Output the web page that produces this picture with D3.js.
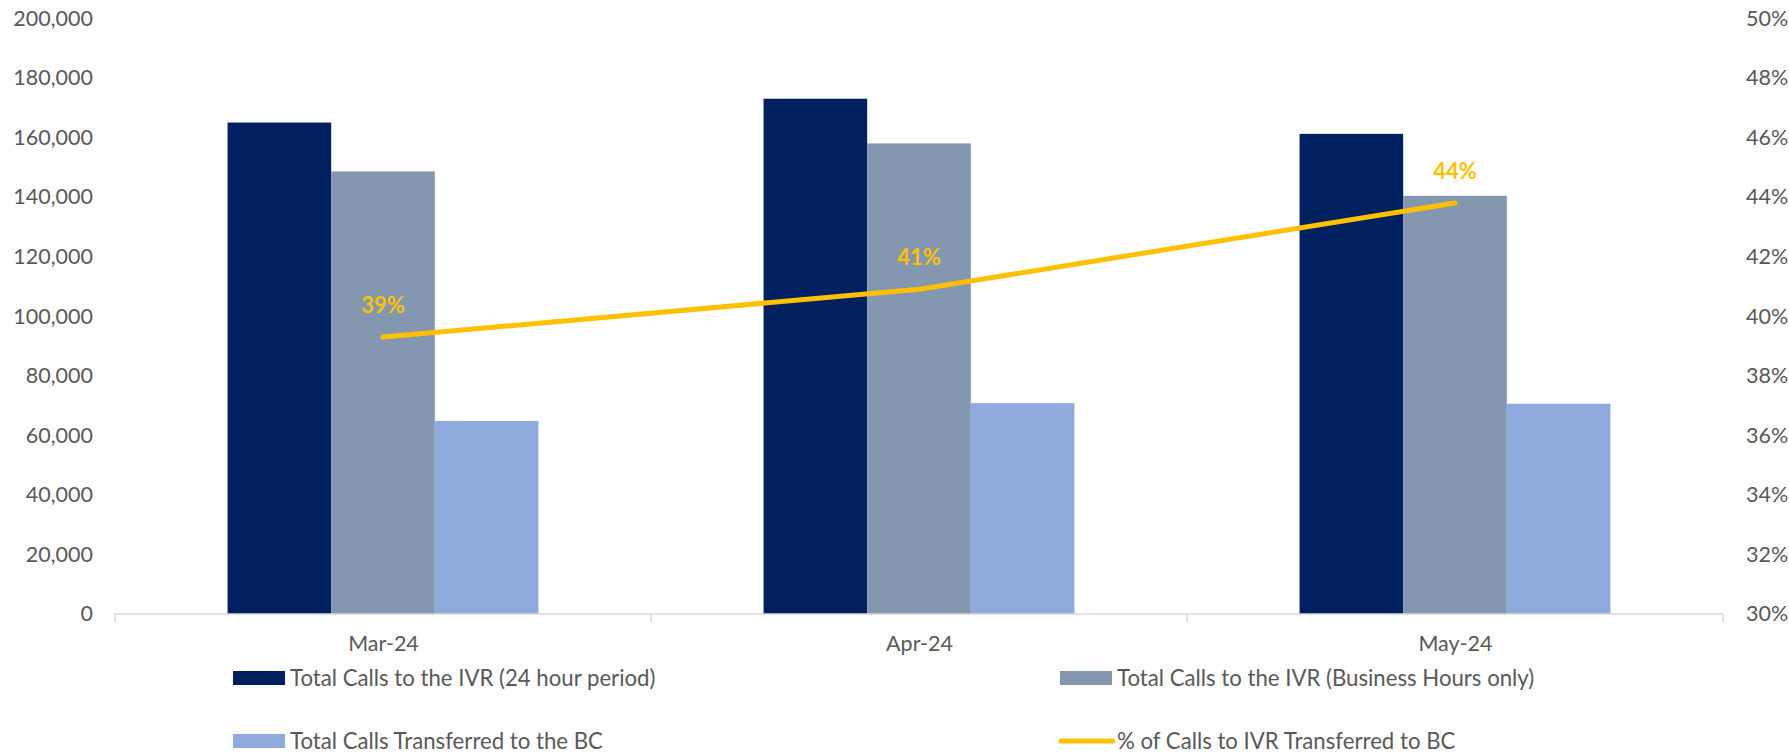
<!DOCTYPE html>
<html>
<head>
<meta charset="utf-8">
<script src="https://cdn.jsdelivr.net/npm/d3@7"></script>
<style>
  html, body { margin: 0; padding: 0; background: #fff; }
  svg { display: block; font-family: Lato, "Open Sans", sans-serif; }
</style>
</head>
<body>
<svg id="chart" width="1789" height="753"></svg>
<script>
// ---- data ----
const categories = ["Mar-24", "Apr-24", "May-24"];
const calls24h = [165000, 173000, 161200];
const callsBusiness = [148600, 158000, 140400];
const callsTransferred = [64800, 70800, 70600];
const pctTransferred = [0.393, 0.409, 0.438];
const leftTicks = [0, 20000, 40000, 60000, 80000, 100000, 120000, 140000, 160000, 180000, 200000];
const rightTicks = [0.30, 0.32, 0.34, 0.36, 0.38, 0.40, 0.42, 0.44, 0.46, 0.48, 0.50];
const seriesNames = [
  "Total Calls to the IVR (24 hour period)",
  "Total Calls to the IVR (Business Hours only)",
  "Total Calls Transferred to the BC"
];
const lineName = "% of Calls to IVR Transferred to BC";

// ---- styles ----
const barColors = ["#002060", "#8497B0", "#8FAADC"];
const lineColor = "#FFC000";
const textColor = "#595959";
const axisColor = "#D9D9D9";
const fontSize = 21.5;
const legendFontSize = 22.2;

const svg = d3.select("#chart");
const plot = { left: 115, right: 1723, top: 18.3, bottom: 614 };

const x0 = d3.scaleBand().domain(categories)
  .range([plot.left, plot.right]).paddingInner(0.42).paddingOuter(0.21);
const x1 = d3.scaleBand().domain(d3.range(3)).range([0, x0.bandwidth()]);
const xEdge = d3.scaleLinear().domain([0, categories.length]).range([plot.left, plot.right]);
const yL = d3.scaleLinear().domain([0, 200000]).range([plot.bottom, plot.top]);
const yR = d3.scaleLinear().domain([0.30, 0.50]).range([plot.bottom, plot.top]);

const series = [calls24h, callsBusiness, callsTransferred];

// bars
const groups = svg.append("g").selectAll("g")
  .data(categories).join("g")
  .attr("transform", d => `translate(${x0(d)},0)`);
groups.selectAll("rect")
  .data((d, i) => series.map((s, k) => ({ k, v: s[i] })))
  .join("rect")
  .attr("x", d => x1(d.k))
  .attr("width", x1.bandwidth())
  .attr("y", d => yL(d.v))
  .attr("height", d => yL(0) - yL(d.v))
  .attr("fill", d => barColors[d.k]);

// x axis line + boundary ticks
const xAxisG = svg.append("g");
xAxisG.append("line")
  .attr("x1", plot.left).attr("x2", plot.right)
  .attr("y1", plot.bottom).attr("y2", plot.bottom)
  .attr("stroke", axisColor).attr("stroke-width", 1.5);
xAxisG.selectAll("line.tick")
  .data(d3.range(categories.length + 1)).join("line")
  .attr("class", "tick")
  .attr("x1", d => xEdge(d)).attr("x2", d => xEdge(d))
  .attr("y1", plot.bottom).attr("y2", plot.bottom + 8)
  .attr("stroke", axisColor).attr("stroke-width", 1.5);

// x labels via axis
const xLab = svg.append("g")
  .attr("transform", `translate(0,${plot.bottom})`)
  .call(d3.axisBottom(d3.scalePoint().domain(categories)
      .range([x0(categories[0]) + x0.bandwidth() / 2, x0(categories[2]) + x0.bandwidth() / 2]))
    .tickSize(0).tickPadding(22));
xLab.select(".domain").remove();
xLab.selectAll("text").attr("fill", textColor).style("font-size", fontSize + "px")
  .style("font-family", "Lato");

// left axis
const lAx = svg.append("g")
  .attr("transform", `translate(${plot.left},0)`)
  .call(d3.axisLeft(yL).tickValues(leftTicks).tickFormat(d3.format(",")).tickSize(0).tickPadding(22));
lAx.select(".domain").remove();
lAx.selectAll("text").attr("fill", textColor).style("font-size", fontSize + "px")
  .style("font-family", "Lato");

// right axis
const rAx = svg.append("g")
  .attr("transform", `translate(${plot.right},0)`)
  .call(d3.axisRight(yR).tickValues(rightTicks).tickFormat(d3.format(".0%")).tickSize(0).tickPadding(23));
rAx.select(".domain").remove();
rAx.selectAll("text").attr("fill", textColor).style("font-size", fontSize + "px")
  .style("font-family", "Lato");

// line
const cx = (d, i) => x0(categories[i]) + x0.bandwidth() / 2;
const line = d3.line().x(cx).y(d => yR(d));
svg.append("path")
  .datum(pctTransferred)
  .attr("d", line)
  .attr("fill", "none")
  .attr("stroke", lineColor)
  .attr("stroke-width", 5)
  .attr("stroke-linecap", "round")
  .attr("stroke-linejoin", "round");

// data labels
svg.append("g").selectAll("text")
  .data(pctTransferred).join("text")
  .attr("x", cx)
  .attr("y", d => yR(d) - 24)
  .attr("text-anchor", "middle")
  .attr("fill", lineColor)
  .style("font-weight", "bold")
  .style("font-size", "22px")
  .text(d3.format(".0%"));

// legend
const legendItems = [
  { name: seriesNames[0], type: "bar", color: barColors[0], x: 233, y: 678 },
  { name: seriesNames[1], type: "bar", color: barColors[1], x: 1060, y: 678 },
  { name: seriesNames[2], type: "bar", color: barColors[2], x: 233, y: 741 },
  { name: lineName, type: "line", color: lineColor, x: 1060, y: 741 }
];
const lg = svg.append("g").selectAll("g").data(legendItems).join("g")
  .attr("transform", d => `translate(${d.x},${d.y})`);
lg.filter(d => d.type === "bar").append("rect")
  .attr("x", 0).attr("y", -7).attr("width", 52).attr("height", 14)
  .attr("fill", d => d.color);
lg.filter(d => d.type === "line").append("line")
  .attr("x1", 1).attr("x2", 53).attr("y1", 0).attr("y2", 0)
  .attr("stroke", d => d.color).attr("stroke-width", 5).attr("stroke-linecap", "round");
lg.append("text")
  .attr("x", 57).attr("y", 0).attr("dy", "0.35em")
  .attr("fill", textColor)
  .style("font-size", legendFontSize + "px")
  .text(d => d.name);
</script>
</body>
</html>
